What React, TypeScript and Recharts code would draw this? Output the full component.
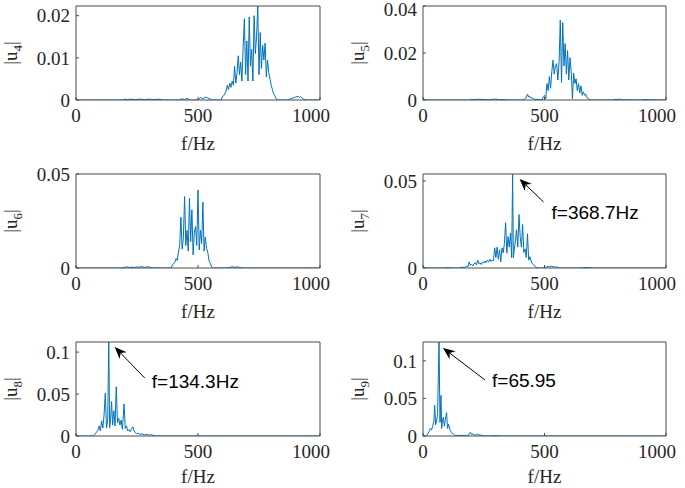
import React from 'react';
import { LineChart, Line, XAxis, YAxis, ReferenceDot } from 'recharts';

// ---------- data ----------
const FREQ_TICKS = [0, 500, 1000];

const F4 = [0,190,200,210,225,240,260,280,300,320,340,360,420,435,445,455,465,500,510,520,530,540,550,560,595,600,605,610,615,620,625,630,635,640,645,650,655,660,665,670,675,680,685,690,695,700,705,710,715,720,725,730,735,740,745,750,755,760,765,770,775,780,785,790,795,800,805,810,815,820,825,870,880,890,900,910,915,920,930,940,1000];
const A4 = [0,0,0.0002,0.0001,0.0002,0.0001,0.0002,0.0001,0.0002,0.0001,0.0002,0,0,0.0003,0.0001,0.0004,0,0,0.0006,0.0003,0.0007,0.0005,0.0002,0,0,0.0008,0.001,0.0015,0.002,0.0035,0.0025,0.004,0.003,0.0045,0.0035,0.008,0.004,0.0065,0.0105,0.006,0.009,0.0045,0.0125,0.0193,0.006,0.014,0.0045,0.0197,0.008,0.012,0.0045,0.02,0.011,0.015,0.0223,0.006,0.016,0.0075,0.013,0.0095,0.0135,0.0055,0.0095,0.0065,0.005,0.0035,0.0025,0.0015,0.001,0.0004,0,0,0.0003,0.0005,0.0007,0.0009,0.0006,0.0008,0.0003,0,0];

const F5 = [0,190,200,210,230,250,270,290,300,310,330,350,410,420,425,430,435,440,445,450,455,490,495,500,505,510,515,520,525,530,535,540,545,550,555,560,565,570,575,580,585,590,595,600,605,610,615,620,625,630,635,640,645,650,655,660,665,670,675,680,690,780,790,800,810,820,900,910,930,1000];
const A5 = [0,0,0.0003,0.0001,0.0003,0.0002,0.0001,0.0003,0.0004,0.0001,0.0002,0,0,0.0005,0.001,0.0025,0.0012,0.0015,0.0008,0.001,0.0004,0,0.0015,0.002,0.0005,0.007,0.004,0.01,0.005,0.012,0.017,0.011,0.0145,0.0155,0.0085,0.016,0.034,0.0075,0.033,0.0145,0.024,0.011,0.021,0.0085,0.018,0.012,0.0005,0.0114,0.007,0.009,0.004,0.007,0.003,0.006,0.002,0.0035,0.002,0.0025,0.001,0.0006,0,0,0.0003,0.0002,0.0004,0.0001,0,0.0002,0.0001,0];

const F6 = [0,190,200,210,220,230,240,250,260,270,280,290,300,310,320,390,395,400,405,410,415,420,425,430,435,440,445,450,455,460,465,470,475,480,485,490,495,500,505,510,515,520,525,530,535,540,545,550,555,560,620,630,640,650,660,670,680,1000];
const A6 = [0,0,0.0004,0.0006,0.0002,0.0005,0.0003,0.0005,0.0004,0.0008,0.0003,0.0006,0.0005,0.0002,0,0,0.0015,0.0025,0.003,0.005,0.004,0.0085,0.012,0.027,0.01,0.016,0.038,0.012,0.02,0.009,0.037,0.014,0.031,0.007,0.019,0.022,0.012,0.0415,0.0096,0.02,0.013,0.035,0.009,0.0165,0.0105,0.0085,0.004,0.0025,0.001,0,0,0.0003,0.0007,0.0004,0.0006,0.0003,0,0];

const F7 = [0,90,100,110,120,150,160,170,180,185,190,195,200,205,210,215,220,225,230,235,240,245,250,255,260,265,270,275,280,285,290,295,300,305,310,315,320,325,330,335,340,345,350,355,360,365,368.7,372,375,380,385,390,395,400,405,410,415,420,425,430,435,440,445,450,455,460,465,470,500,510,520,530,540,550,560,650,660,680,700,1000];
const A7 = [0,0,0.0003,0.0001,0,0,0.0005,0.0003,0.001,0.0008,0.0035,0.0015,0.002,0.0012,0.0025,0.003,0.0018,0.0045,0.0025,0.003,0.002,0.0035,0.0028,0.004,0.003,0.0045,0.0035,0.005,0.0038,0.0047,0.004,0.0116,0.006,0.012,0.005,0.0105,0.0035,0.0116,0.0087,0.014,0.026,0.0085,0.018,0.012,0.02,0.006,0.054,0.006,0.01,0.015,0.022,0.012,0.0307,0.018,0.012,0.025,0.009,0.011,0.006,0.0197,0.0045,0.0065,0.004,0.0025,0.002,0.001,0.0005,0,0,0.0008,0.0006,0.001,0.0005,0.0007,0,0,0.0002,0.0003,0,0];

const F8 = [0,70,75,80,85,90,95,100,105,110,115,120,125,130,134.3,138,142,146,150,155,160,165,170,175,180,185,190,197,202,207,212,217,222,228,233,238,243,248,255,260,270,280,290,300,310,320,330,1000];
const A8 = [0,0,0.001,0.003,0.005,0.007,0.012,0.006,0.018,0.0095,0.025,0.051,0.0095,0.02,0.112,0.01,0.021,0.041,0.013,0.03,0.012,0.0587,0.016,0.021,0.013,0.019,0.008,0.038,0.009,0.012,0.006,0.0075,0.005,0.009,0.011,0.006,0.004,0.003,0.0035,0.002,0.0025,0.0015,0.002,0.001,0.0015,0.0003,0,0];

const F9 = [0,10,15,20,25,30,35,40,45,48,52,56,60,65.95,70,74,77,80,84,88,92,97,101,105,110,115,120,125,130,140,150,160,170,180,190,195,200,205,210,220,230,240,250,270,300,320,1000];
const A9 = [0,0,0.001,0.003,0.006,0.01,0.008,0.013,0.02,0.041,0.015,0.02,0.03,0.125,0.018,0.054,0.01,0.02,0.025,0.013,0.022,0.031,0.01,0.016,0.009,0.006,0.004,0.002,0.001,0.0005,0.001,0.0005,0.0008,0.0005,0.002,0.005,0.002,0.003,0.001,0.002,0.0015,0.001,0.0003,0,0.0003,0,0];

const Y_TICKS = {
  4: [0, 0.01, 0.02],
  5: [0, 0.02, 0.04],
  6: [0, 0.05],
  7: [0, 0.05],
  8: [0, 0.05, 0.1],
  9: [0, 0.05, 0.1],
};
const Y_MAX = { 4: 0.0223, 5: 0.04, 6: 0.05, 7: 0.054, 8: 0.112, 9: 0.125 };

const NOTES = {
  7: { f: 368.7, text: 'f=368.7Hz' },
  8: { f: 134.3, text: 'f=134.3Hz' },
  9: { f: 65.95, text: 'f=65.95' },
};

// ---------- styling / layout ----------
const SERIF = '"Liberation Serif","Times New Roman",Times,serif';
const SANS = '"Liberation Sans",Arial,Helvetica,sans-serif';
const TXT = '#262626';
const AX = '#4a4a4a';
const BLUE = '#0072BD';
const FS = 19;

const PADL = 80;
const PADT = 10;
const PADR = 10;
const PADB = 60;

// plot-box placement of each panel in the figure (xlab = baseline offset of "f/Hz")
const LAYOUT = {
  4: { left: 76, top: 6, w: 244, h: 94, xlab: 50 },
  5: { left: 423, top: 6, w: 243, h: 94, xlab: 50 },
  6: { left: 76, top: 174, w: 244, h: 94, xlab: 50 },
  7: { left: 423, top: 174, w: 243, h: 94, xlab: 50 },
  8: { left: 76, top: 342, w: 244, h: 94, xlab: 47 },
  9: { left: 423, top: 342, w: 243, h: 94, xlab: 47 },
};
// annotation arrow offsets relative to the annotated peak
const NOTE_GEOM = {
  7: { tip: [7, 5], tail: [31, 28], txt: [39, 45] },
  8: { tip: [6, 5], tail: [36, 36], txt: [43, 46] },
  9: { tip: [4, 6], tail: [46, 38], txt: [53, 45] },
};

const SERIES = { 4: [F4, A4], 5: [F5, A5], 6: [F6, A6], 7: [F7, A7], 8: [F8, A8], 9: [F9, A9] };

function zip(f: number[], a: number[]) {
  return f.map((x, i) => ({ f: x, v: a[i] }));
}

function YLabel({ n, h }: { n: number; h: number }) {
  const x = PADL - 59;
  const y = PADT + h / 2;
  return (
    <text
      transform={`translate(${x},${y}) rotate(-90)`}
      textAnchor="middle"
      fontFamily={SERIF}
      fontSize={FS}
      fill={TXT}
    >
      <tspan>|u</tspan>
      <tspan dy={5} fontSize={13}>{String(n)}</tspan>
      <tspan dy={-5}>|</tspan>
    </text>
  );
}

function XLabel({ w, h, off }: { w: number; h: number; off: number }) {
  return (
    <text
      x={PADL + w / 2}
      y={PADT + h + off}
      textAnchor="middle"
      fontFamily={SERIF}
      fontSize={FS}
      fill={TXT}
    >
      f/Hz
    </text>
  );
}

function Note({ cx, cy, n }: { cx: number; cy: number; n: number }) {
  const g = NOTE_GEOM[n];
  const tx = cx + g.tip[0];
  const ty = cy + g.tip[1];
  const sx = cx + g.tail[0];
  const sy = cy + g.tail[1];
  const dx = tx - sx;
  const dy = ty - sy;
  const len = Math.hypot(dx, dy);
  const ux = dx / len;
  const uy = dy / len;
  const nx = -uy;
  const ny = ux;
  const L = 12;
  const W = 5;
  const bx = tx - ux * L;
  const by = ty - uy * L;
  const mx = tx - ux * L * 0.7;
  const my = ty - uy * L * 0.7;
  const pts = `${tx},${ty} ${bx + nx * W},${by + ny * W} ${mx},${my} ${bx - nx * W},${by - ny * W}`;
  return (
    <g>
      <line x1={sx} y1={sy} x2={mx} y2={my} stroke="#000" strokeWidth={1} />
      <polygon points={pts} fill="#000" />
      <text
        x={cx + g.txt[0]}
        y={cy + g.txt[1]}
        fontFamily={SANS}
        fontSize={19}
        fill="#000"
      >
        {NOTES[n].text}
      </text>
    </g>
  );
}

function Panel({ n }: { n: number }) {
  const lay = LAYOUT[n];
  const [f, a] = SERIES[n];
  const data = zip(f, a);
  const yMax = Y_MAX[n];
  const yTicks = Y_TICKS[n];
  const note = NOTES[n];
  const noteY = note ? a[f.indexOf(note.f)] : 0;
  const W = lay.w + PADL + PADR;
  const H = lay.h + PADT + PADB;
  const tickStyle = { fontFamily: SERIF, fontSize: FS, fill: TXT };
  // keep the topmost y label fully inside the figure
  const minY = PADT - lay.top + 9;
  const yTick = (p: any) => (
    <text
      x={p.x}
      y={Math.max(p.y, minY)}
      dy="0.355em"
      textAnchor="end"
      fontFamily={SERIF}
      fontSize={FS}
      fill={TXT}
    >
      {String(p.payload.value)}
    </text>
  );
  return (
    <div style={{ position: 'absolute', left: lay.left - PADL, top: lay.top - PADT }}>
      <LineChart
        width={W}
        height={H}
        data={data}
        margin={{ top: PADT - 1, right: PADR - 1, bottom: 0, left: 0 }}
      >
        <XAxis
          xAxisId="t"
          orientation="top"
          dataKey="f"
          type="number"
          domain={[0, 1000]}
          ticks={FREQ_TICKS}
          height={1}
          tick={false}
          tickSize={-3}
          stroke={AX}
          allowDataOverflow
        />
        <YAxis
          yAxisId="r"
          orientation="right"
          type="number"
          domain={[0, yMax]}
          ticks={yTicks}
          width={1}
          tick={false}
          tickSize={-3}
          stroke={AX}
          allowDataOverflow
        />
        <XAxis
          xAxisId="b"
          dataKey="f"
          type="number"
          domain={[0, 1000]}
          ticks={FREQ_TICKS}
          height={PADB}
          tickSize={-3}
          tickMargin={12}
          tick={tickStyle}
          stroke={AX}
          allowDataOverflow
          label={() => <XLabel w={lay.w} h={lay.h} off={lay.xlab} />}
        />
        <YAxis
          yAxisId="l"
          type="number"
          domain={[0, yMax]}
          ticks={yTicks}
          width={PADL}
          tickSize={-3}
          tickMargin={9}
          tick={yTick}
          stroke={AX}
          allowDataOverflow
          label={() => <YLabel n={n} h={lay.h} />}
        />
        <Line
          xAxisId="b"
          yAxisId="l"
          type="linear"
          dataKey="v"
          stroke={BLUE}
          strokeWidth={1}
          dot={false}
          activeDot={false}
          isAnimationActive={false}
        />
        {note && (
          <ReferenceDot
            xAxisId="b"
            yAxisId="l"
            x={note.f}
            y={noteY}
            r={0}
            ifOverflow="visible"
            shape={(p: any) => <Note cx={p.cx} cy={p.cy} n={n} />}
          />
        )}
      </LineChart>
    </div>
  );
}

export default function App() {
  return (
    <div
      style={{
        position: 'absolute',
        left: 0,
        top: 0,
        width: 685,
        height: 488,
        background: '#fff',
        overflow: 'hidden',
      }}
    >
      {[4, 5, 6, 7, 8, 9].map((n) => (
        <Panel key={n} n={n} />
      ))}
    </div>
  );
}
